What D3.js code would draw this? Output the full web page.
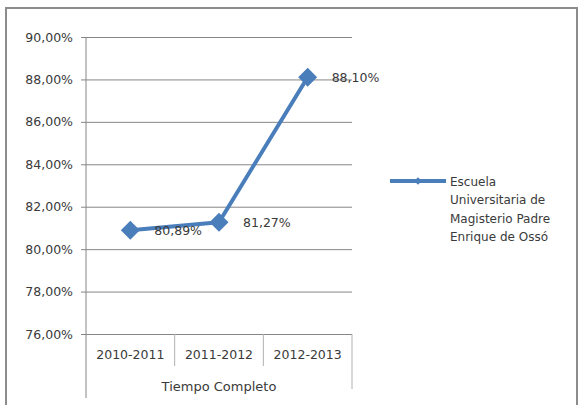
<!DOCTYPE html>
<html><head><meta charset="utf-8">
<script src="https://cdn.jsdelivr.net/npm/d3@7"></script>
<style>body{margin:0;background:#fff}svg{display:block}text{font-family:"DejaVu Sans",sans-serif;fill:#3a3a3a}</style>
</head><body><svg id="c" width="578" height="405"></svg>
<script>
const categories = ["2010-2011","2011-2012","2012-2013"];
const groupLabel = "Tiempo Completo";
const values = [80.89, 81.27, 88.10];
const dataLabels = ["80,89%","81,27%","88,10%"];
const yTicks = [76,78,80,82,84,86,88,90];
const legendLines = ["Escuela","Universitaria de","Magisterio Padre","Enrique de Ossó"];

const svg = d3.select("#c");
const L = 86, R = 352, T = 37, B = 334;
const x = d3.scaleBand().domain(categories).range([L, R]);
const y = d3.scaleLinear().domain([76, 90]).range([B, T]);
const blue = "#4A7EBB", grid = "#868686";

// outer border
svg.append("rect").attr("x",6).attr("y",8).attr("width",571).attr("height",410)
  .attr("fill","none").attr("stroke","#8c8c8c").attr("stroke-width",2);

// gridlines + y axis
const yAxis = d3.axisLeft(y).tickValues(yTicks).tickSize(-(R - L)).tickPadding(13)
  .tickFormat(d => d3.format(".2f")(d).replace(".", ",") + "%");
const gy = svg.append("g").attr("transform", `translate(${L},0)`).call(yAxis);
gy.select(".domain").remove();
gy.selectAll(".tick line").attr("stroke", grid).attr("x1", -5);
gy.selectAll(".tick text").style("font-size","12.5px").attr("fill","#3a3a3a");

// vertical axis line
svg.append("line").attr("x1",L).attr("x2",L).attr("y1",T).attr("y2",398).attr("stroke",grid);
// category separators
categories.forEach((c,i) => {
  if (i > 0) svg.append("line").attr("x1",x(c)).attr("x2",x(c)).attr("y1",B).attr("y2",366).attr("stroke","#b0b0b0");
});
svg.append("line").attr("x1",R).attr("x2",R).attr("y1",B).attr("y2",389).attr("stroke","#b0b0b0");

// category labels
svg.append("g").selectAll("text").data(categories).join("text")
  .attr("x", d => x(d) + x.bandwidth()/2).attr("y", 355).attr("text-anchor","middle")
  .attr("dominant-baseline","middle").style("font-size","12.5px").text(d => d);
svg.append("text").attr("x",(L+R)/2).attr("y",387).attr("text-anchor","middle")
  .attr("dominant-baseline","middle").style("font-size","13px").text(groupLabel);

// line
const pts = categories.map((c,i) => [x(c) + x.bandwidth()/2, y(values[i])]);
svg.append("path").attr("d", d3.line()(pts)).attr("fill","none").attr("stroke",blue)
  .attr("stroke-width",4).attr("stroke-linejoin","round").attr("stroke-linecap","round");
svg.append("g").selectAll("path").data(pts).join("path")
  .attr("d", d3.symbol().type(d3.symbolSquare).size(180))
  .attr("transform", d => `translate(${d[0]},${d[1]}) rotate(45)`)
  .attr("fill", blue);

// data labels
svg.append("g").selectAll("text").data(pts).join("text")
  .attr("x", d => d[0] + 24).attr("y", d => d[1] + 1).attr("dominant-baseline","middle")
  .style("font-size","12.5px").text((d,i) => dataLabels[i]);

// legend
svg.append("line").attr("x1",390).attr("x2",446).attr("y1",181).attr("y2",181).attr("stroke",blue).attr("stroke-width",4);
svg.append("path").attr("d", d3.symbol().type(d3.symbolSquare).size(30)).attr("transform","translate(418,181) rotate(45)").attr("fill",blue);
svg.append("g").selectAll("text").data(legendLines).join("text")
  .attr("x",450).attr("y",(d,i) => 182 + i*18.5).attr("dominant-baseline","middle")
  .style("font-size","12px").text(d => d);
</script></body></html>
